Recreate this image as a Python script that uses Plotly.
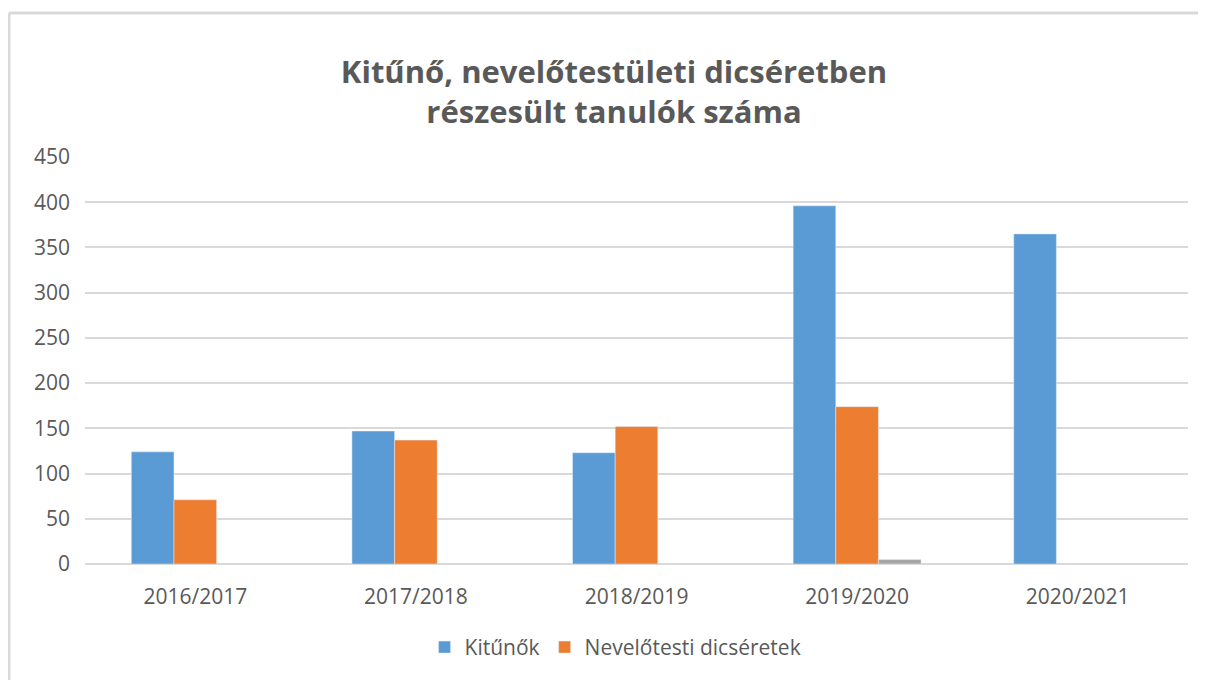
import plotly.graph_objects as go

years = ['2016/2017', '2017/2018', '2018/2019', '2019/2020', '2020/2021']
kitunok = [124, 147, 123, 396, 365]
dicseretek = [71, 137, 152, 174, None]
adatsor3 = [None, None, None, 5, None]

text_color = '#595959'
grid_color = '#D9D9D9'
font_family = 'Open Sans, Liberation Sans, sans-serif'

fig = go.Figure()
fig.add_trace(go.Bar(x=years, y=kitunok, name='Kitűnők', marker_color='#5B9BD5'))
fig.add_trace(go.Bar(x=years, y=dicseretek, name='Nevelőtesti dicséretek', marker_color='#ED7D31'))
fig.add_trace(go.Bar(x=years, y=adatsor3, name='Adatsor3', marker_color='#A5A5A5', showlegend=False))

fig.update_layout(
    width=1206,
    height=680,
    barmode='group',
    bargap=0.42,
    bargroupgap=0,
    plot_bgcolor='white',
    paper_bgcolor='white',
    margin=dict(l=77, r=26, t=149, b=124),
    font=dict(family=font_family, color=text_color, size=21),
    title=dict(
        text='Kitűnő, nevelőtestületi dicséretben<br>részesült tanulók száma',
        x=606 / 1206, xanchor='center',
        y=1 - 75 / 680, yanchor='middle',
        font=dict(family=font_family, size=31, color=text_color, weight='bold'),
    ),
    legend=dict(
        orientation='h',
        x=0.481, xanchor='center',
        y=-0.205, yanchor='middle',
        font=dict(size=21, color=text_color),
        traceorder='normal',
    ),
    showlegend=True,
)

fig.update_yaxes(
    range=[0, 450],
    dtick=50,
    automargin=False,
    showgrid=True,
    gridcolor=grid_color,
    gridwidth=2,
    zeroline=True,
    zerolinecolor=grid_color,
    zerolinewidth=2,
    showline=False,
    ticklabelstandoff=14,
    tickfont=dict(size=21, color=text_color),
)
fig.update_xaxes(
    automargin=False,
    showgrid=False,
    showline=False,
    ticklabelstandoff=18,
    tickfont=dict(size=21, color=text_color),
)

# chart frame (left and top edges), in pixels from the plot area's corner
frame = dict(
    type='line',
    xref='paper', yref='paper',
    xsizemode='pixel', ysizemode='pixel',
    xanchor=0, yanchor=0,
    line=dict(color=grid_color, width=3),
    layer='below',
)
fig.add_shape(x0=-76, x1=-76, y0=-300, y1=551, **frame)
fig.add_shape(x0=-76, x1=1300, y0=551, y1=551, **frame)

# the page is a bit larger than the window; keep scrollbars out of the shot
fig.write_html('out.html', post_script="document.body.style.overflow='hidden';")
